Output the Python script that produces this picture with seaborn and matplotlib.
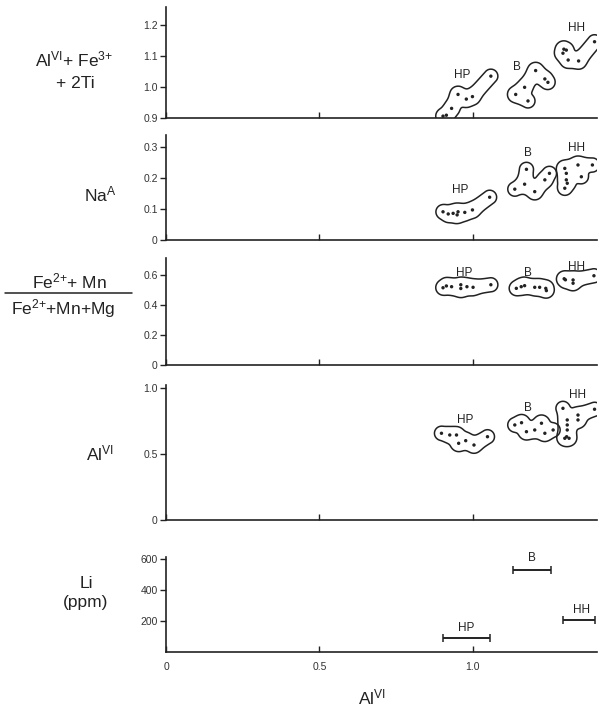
import numpy as np
import matplotlib
matplotlib.use("Agg")
import matplotlib.pyplot as plt
import seaborn as sns
import pandas as pd
from matplotlib.lines import Line2D

# ---------------- data ----------------
groups = ["HP", "B", "HH"]

# panel 1: AlVI + Fe3+ + 2Ti
p1_hp_x = [0.903, 0.914, 0.931, 0.952, 0.979, 0.999, 1.059]
p1_hp_y = [0.906, 0.909, 0.931, 0.976, 0.961, 0.969, 1.035]
p1_b_x = [1.205, 1.235, 1.245, 1.169, 1.140, 1.180]
p1_b_y = [1.053, 1.026, 1.015, 0.999, 0.976, 0.955]
p1_hh_x = [1.297, 1.294, 1.305, 1.311, 1.345, 1.397]
p1_hh_y = [1.122, 1.109, 1.119, 1.087, 1.084, 1.146]

# panel 2: NaA
p2_hp_x = [0.903, 0.920, 0.936, 0.949, 0.952, 0.974, 0.999, 1.055]
p2_hp_y = [0.091, 0.084, 0.086, 0.081, 0.091, 0.089, 0.097, 0.138]
p2_b_x = [1.175, 1.169, 1.137, 1.202, 1.235, 1.250]
p2_b_y = [0.228, 0.180, 0.164, 0.156, 0.194, 0.215]
p2_hh_x = [1.300, 1.305, 1.343, 1.354, 1.305, 1.308, 1.300, 1.390]
p2_hh_y = [0.231, 0.215, 0.242, 0.204, 0.194, 0.183, 0.167, 0.242]

# panel 3: (Fe2+ + Mn)/(Fe2+ + Mn + Mg)
p3_hp_x = [0.903, 0.914, 0.931, 0.961, 0.961, 0.981, 1.001, 1.059]
p3_hp_y = [0.515, 0.527, 0.522, 0.535, 0.510, 0.522, 0.518, 0.535]
p3_b_x = [1.142, 1.158, 1.169, 1.202, 1.218, 1.238, 1.240]
p3_b_y = [0.511, 0.522, 0.529, 0.518, 0.518, 0.511, 0.496]
p3_hh_x = [1.298, 1.302, 1.327, 1.327, 1.395]
p3_hh_y = [0.575, 0.568, 0.567, 0.545, 0.595]

# panel 4: AlVI
p4_hp_x = [0.898, 0.925, 0.947, 0.954, 0.977, 1.004, 1.048]
p4_hp_y = [0.657, 0.644, 0.644, 0.581, 0.601, 0.568, 0.631]
p4_b_x = [1.137, 1.159, 1.175, 1.202, 1.224, 1.235, 1.262]
p4_b_y = [0.720, 0.737, 0.669, 0.682, 0.733, 0.657, 0.682]
p4_hh_x = [1.294, 1.308, 1.308, 1.308, 1.306, 1.300, 1.314, 1.343, 1.343, 1.397]
p4_hh_y = [0.846, 0.758, 0.720, 0.682, 0.631, 0.619, 0.619, 0.795, 0.758, 0.839]

# panel 5: Li ranges (ppm)
li_group = ["HP", "B", "HH"]
li_xmin = [0.903, 1.131, 1.294]
li_xmax = [1.055, 1.256, 1.400]
li_ppm = [88, 529, 206]

# group label anchors per panel (x, y)
p1_lab = {"HP": (0.966, 1.039), "B": (1.144, 1.065), "HH": (1.338, 1.189)}
p2_lab = {"HP": (0.960, 0.161), "B": (1.180, 0.280), "HH": (1.338, 0.296)}
p3_lab = {"HP": (0.971, 0.611), "B": (1.180, 0.611), "HH": (1.338, 0.655)}
p4_lab = {"HP": (0.974, 0.758), "B": (1.180, 0.846), "HH": (1.343, 0.947)}
p5_lab = {"HP": (0.980, 153), "B": (1.193, 606), "HH": (1.356, 271)}

x_ticks = [0, 0.5, 1.0]
x_ticklabels = ["0", "0.5", "1.0"]
p1_yticks = [0.9, 1.0, 1.1, 1.2]
p2_yticks = [0, 0.1, 0.2, 0.3]
p3_yticks = [0, 0.2, 0.4, 0.6]
p4_yticks = [0, 0.5, 1.0]
p5_yticks = [200, 400, 600]

# ---------------- style ----------------
sns.set_style("ticks")
plt.rcParams["font.family"] = ["Liberation Sans", "DejaVu Sans"]
plt.rcParams["mathtext.default"] = "regular"

INK = "#222222"
TXT = "#222222"
W, H = 601, 706
fig = plt.figure(figsize=(W / 100, H / 100), dpi=100)
fig.patch.set_facecolor("white")


def add_panel(top_px, bot_px, y0, y1):
    ax = fig.add_axes([166 / W, 1 - bot_px / H, (597 - 166) / W, (bot_px - top_px) / H])
    ax.set_xlim(0, 1.405)
    ax.set_ylim(y0, y1)
    ax.set_facecolor("white")
    sns.despine(ax=ax)
    for s in ("left", "bottom"):
        ax.spines[s].set_linewidth(1.2)
        ax.spines[s].set_color(INK)
    ax.tick_params(axis="x", direction="in", length=4, width=1, color=INK,
                   labelsize=7.5, labelcolor="#333333", pad=7)
    ax.tick_params(axis="y", direction="out", length=4, width=1, color=INK,
                   labelsize=7.5, labelcolor="#333333", pad=2)
    ax.set_xticks(x_ticks)
    ax.set_xticklabels([""] * len(x_ticks))
    return ax


def draw_outline(ax, xs, ys, r=7.0, k=1.8):
    pts = ax.transData.transform(np.column_stack([xs, ys]))
    n = len(pts)
    in_tree = [0]
    edges = []
    while len(in_tree) < n:
        best = None
        for i in in_tree:
            for j in range(n):
                if j in in_tree:
                    continue
                d = np.hypot(*(pts[i] - pts[j]))
                if best is None or d < best[0]:
                    best = (d, i, j)
        edges.append((best[1], best[2]))
        in_tree.append(best[2])
    lo = pts.min(0) - 3 * r
    hi = pts.max(0) + 3 * r
    gx = np.linspace(lo[0], hi[0], 260)
    gy = np.linspace(lo[1], hi[1], 260)
    GX, GY = np.meshgrid(gx, gy)
    acc = np.zeros_like(GX)
    for i, j in edges:
        a, b = pts[i], pts[j]
        ab = b - a
        L2 = max((ab ** 2).sum(), 1e-9)
        t = np.clip(((GX - a[0]) * ab[0] + (GY - a[1]) * ab[1]) / L2, 0, 1)
        d = np.hypot(GX - (a[0] + t * ab[0]), GY - (a[1] + t * ab[1]))
        acc += np.exp(-d / k)
    D = -k * np.log(acc + 1e-300)
    inv = ax.transData.inverted()
    xd = inv.transform(np.column_stack([gx, np.full_like(gx, gy[0])]))[:, 0]
    yd = inv.transform(np.column_stack([np.full_like(gy, gx[0]), gy]))[:, 1]
    ax.contour(xd, yd, D, levels=[r], colors=INK, linewidths=1.1)


def scatter_panel(ax, data, labels):
    rows = []
    for g, (xs, ys) in data.items():
        for x, y in zip(xs, ys):
            rows.append({"x": x, "y": y, "group": g})
        draw_outline(ax, xs, ys)
    df = pd.DataFrame(rows)
    sns.scatterplot(data=df, x="x", y="y", ax=ax, color=INK, s=6,
                    edgecolor="none", legend=False, zorder=3)
    for g, (lx, ly) in labels.items():
        ax.text(lx, ly, g, ha="center", va="center", fontsize=8.5, color=TXT)
    ax.set_xlabel("")
    ax.set_ylabel("")


# panel 1
ax1 = add_panel(7, 118, 0.9, 0.9 + 111 / 310)
scatter_panel(ax1, {"HP": (p1_hp_x, p1_hp_y), "B": (p1_b_x, p1_b_y),
                    "HH": (p1_hh_x, p1_hh_y)}, p1_lab)
ax1.set_yticks(p1_yticks)
ax1.set_yticklabels([f"{v:.1f}" for v in p1_yticks])

# panel 2
ax2 = add_panel(135, 240, 0, 105 / 310)
scatter_panel(ax2, {"HP": (p2_hp_x, p2_hp_y), "B": (p2_b_x, p2_b_y),
                    "HH": (p2_hh_x, p2_hh_y)}, p2_lab)
ax2.set_yticks(p2_yticks)
ax2.set_yticklabels(["0", "0.1", "0.2", "0.3"])

# panel 3
ax3 = add_panel(258, 365, 0, 107 / 150)
scatter_panel(ax3, {"HP": (p3_hp_x, p3_hp_y), "B": (p3_b_x, p3_b_y),
                    "HH": (p3_hh_x, p3_hh_y)}, p3_lab)
ax3.set_yticks(p3_yticks)
ax3.set_yticklabels(["0", "0.2", "0.4", "0.6"])

# panel 4
ax4 = add_panel(385, 520, 0, 135 / 132)
scatter_panel(ax4, {"HP": (p4_hp_x, p4_hp_y), "B": (p4_b_x, p4_b_y),
                    "HH": (p4_hh_x, p4_hh_y)}, p4_lab)
ax4.set_yticks(p4_yticks)
ax4.set_yticklabels(["0", "0.5", "1.0"])

# panel 5
ax5 = add_panel(557, 652, 0, 95 / 0.155)
li_mid = [(a + b) / 2 for a, b in zip(li_xmin, li_xmax)]
li_half = [(b - a) / 2 for a, b in zip(li_xmin, li_xmax)]
ax5.errorbar(li_mid, li_ppm, xerr=li_half, fmt="none", ecolor=INK,
             elinewidth=1.4, capsize=3, capthick=1.1, clip_on=False)
for g, (lx, ly) in p5_lab.items():
    ax5.text(lx, ly, g, ha="center", va="center", fontsize=8.5, color=TXT)
ax5.set_yticks(p5_yticks)
ax5.set_yticklabels(["200", "400", "600"])
ax5.set_xticklabels(x_ticklabels)

# ---------------- axis titles ----------------
def ftext(x, y, s, **kw):
    fig.text(x / W, 1 - y / H, s, ha="center", va="center", color=TXT, **kw)

ftext(74, 59, "Al$^{VI}$+ Fe$^{3{+}}$", fontsize=12.5)
ftext(75, 83, "+ 2Ti", fontsize=12.5)
ftext(100, 194, "Na$^{A}$", fontsize=12.5)
ftext(69, 281, "Fe$^{2{+}}$+ Mn", fontsize=12.5)
fig.add_artist(Line2D([5 / W, 132 / W], [1 - 293 / H, 1 - 293 / H],
                      color=TXT, lw=1.1))
ftext(63, 309, "Fe$^{2{+}}$+Mn+Mg", fontsize=12.5)
ftext(100, 453, "Al$^{VI}$", fontsize=12.5)
ftext(86, 584, "Li", fontsize=12.5)
ftext(86, 603, "(ppm)", fontsize=12.5)
ftext(372, 697, "Al$^{VI}$", fontsize=12.5)

fig.savefig("out.png", dpi=100, facecolor="white")
